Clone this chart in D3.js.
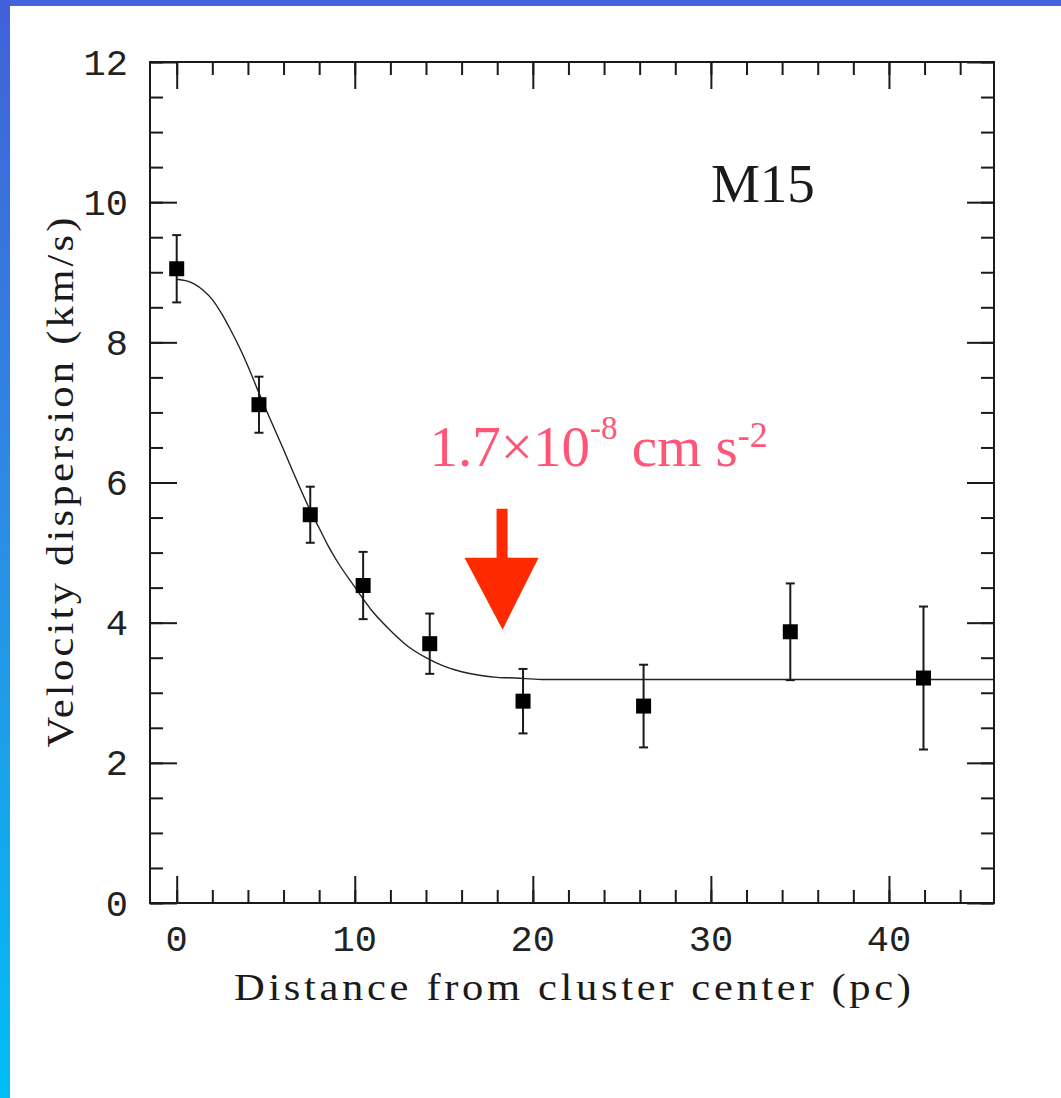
<!DOCTYPE html>
<html>
<head>
<meta charset="utf-8">
<script src="https://cdn.jsdelivr.net/npm/d3@7"></script>
<style>
  html, body { margin: 0; padding: 0; background: #fff; }
  svg { display: block; }
</style>
</head>
<body>
<svg class="chart"></svg>
<script>
// Measured points (distance in pc, dispersion in km/s, symmetric error)
var distance = [0, 4.62, 7.50, 10.47, 14.21, 19.45, 26.22, 34.46, 41.94];
var dispersion = [9.05, 7.11, 5.54, 4.53, 3.70, 2.88, 2.81, 3.87, 3.21];
var dispersionErr = [0.48, 0.40, 0.40, 0.48, 0.43, 0.46, 0.59, 0.69, 1.02];

// Fitted curve
var fitDistance = [0, 0.5, 1, 1.5, 2, 2.5, 3, 3.5, 4, 4.5, 5, 5.5, 6, 6.5, 7,
  7.5, 8, 8.5, 9, 10, 11, 12, 13, 14, 15, 16, 17, 18, 19, 20.5, 45.9];
var fitDispersion = [8.90, 8.88, 8.83, 8.74, 8.61, 8.42, 8.19, 7.94, 7.66,
  7.35, 7.05, 6.76, 6.47, 6.17, 5.88, 5.60, 5.35, 5.10, 4.88, 4.51, 4.16,
  3.89, 3.66, 3.50, 3.38, 3.30, 3.25, 3.22, 3.21, 3.19, 3.19];

// Ticks
var xMajor = [0, 10, 20, 30, 40];
var xMinor = [0, 2, 4, 6, 8, 10, 12, 14, 16, 18, 20, 22, 24, 26, 28, 30, 32,
  34, 36, 38, 40, 42, 44];
var yMajor = [0, 2, 4, 6, 8, 10, 12];
var yMinor = [0, 0.5, 1, 1.5, 2, 2.5, 3, 3.5, 4, 4.5, 5, 5.5, 6, 6.5, 7, 7.5,
  8, 8.5, 9, 9.5, 10, 10.5, 11, 11.5, 12];

var chartWidth = 1061;
var chartHeight = 1098;
var plotLeft = 150, plotRight = 994, plotTop = 62, plotBottom = 903;
var ink = '#1a1a1a';
var serif = '"Liberation Serif", "Times New Roman", serif';
var stretch = 1.15;  // axis titles are wider than Times

var x = d3.scaleLinear().domain([-1.5, 45.9]).range([plotLeft, plotRight]);
var y = d3.scaleLinear().domain([0, 12]).range([plotBottom, plotTop]);

var chart = d3.select('.chart')
    .attr('width', chartWidth).attr('height', chartHeight);

// Slide background border
var defs = chart.append('defs');
var grad = defs.append('linearGradient')
    .attr('id', 'sideGrad')
    .attr('x1', 0).attr('y1', 0).attr('x2', 0).attr('y2', 1);
grad.append('stop').attr('offset', '0%').attr('stop-color', '#4161d8');
grad.append('stop').attr('offset', '50%').attr('stop-color', '#2a8fe6');
grad.append('stop').attr('offset', '100%').attr('stop-color', '#00bef6');

chart.append('rect').attr('x', 0).attr('y', 0)
    .attr('width', chartWidth).attr('height', chartHeight).attr('fill', '#fff');
chart.append('rect').attr('x', 0).attr('y', 0)
    .attr('width', chartWidth).attr('height', 6).attr('fill', '#4464dc');
chart.append('rect').attr('x', 0).attr('y', 0)
    .attr('width', 10).attr('height', chartHeight).attr('fill', 'url(#sideGrad)');

// Ticks on all four sides, pointing inward
function tickAxis(axis, values, size, transform) {
  chart.append('g')
      .attr('transform', transform)
      .call(axis.tickValues(values).tickSize(size).tickSizeOuter(0)
          .tickFormat(''))
      .call(g => g.select('.domain').remove())
      .call(g => g.selectAll('line').attr('stroke', ink)
          .attr('stroke-width', 2));
}
tickAxis(d3.axisBottom(x), xMinor, -13, 'translate(0,' + plotBottom + ')');
tickAxis(d3.axisBottom(x), xMajor, -27, 'translate(0,' + plotBottom + ')');
tickAxis(d3.axisTop(x), xMinor, -13, 'translate(0,' + plotTop + ')');
tickAxis(d3.axisTop(x), xMajor, -27, 'translate(0,' + plotTop + ')');
tickAxis(d3.axisLeft(y), yMinor, -13, 'translate(' + plotLeft + ',0)');
tickAxis(d3.axisLeft(y), yMajor, -27, 'translate(' + plotLeft + ',0)');
tickAxis(d3.axisRight(y), yMinor, -13, 'translate(' + plotRight + ',0)');
tickAxis(d3.axisRight(y), yMajor, -27, 'translate(' + plotRight + ',0)');

chart.append('rect')
    .attr('x', plotLeft).attr('y', plotTop)
    .attr('width', plotRight - plotLeft).attr('height', plotBottom - plotTop)
    .attr('fill', 'none').attr('stroke', ink).attr('stroke-width', 2);

// Tick labels
chart.selectAll('text.xTick')
    .data(xMajor)
    .join('text')
    .attr('class', 'xTick')
    .attr('x', d => x(d))
    .attr('y', 951)
    .attr('text-anchor', 'middle')
    .style('font-family', '"Liberation Mono", monospace')
    .style('font-size', '37px')
    .attr('fill', '#222')
    .text(d => d);

chart.selectAll('text.yTick')
    .data(yMajor)
    .join('text')
    .attr('class', 'yTick')
    .attr('x', 128)
    .attr('y', d => y(d) + 12.5)
    .attr('text-anchor', 'end')
    .style('font-family', '"Liberation Mono", monospace')
    .style('font-size', '37px')
    .attr('fill', '#222')
    .text(d => d);

// Axis titles
chart.append('text')
    .attr('transform', 'translate(' + ((plotLeft + plotRight) / 2 - 338) +
        ',1000) scale(' + stretch + ',1)')
    .attr('textLength', 677 / stretch)
    .attr('lengthAdjust', 'spacing')
    .style('font-family', serif)
    .style('font-size', '37px')
    .attr('fill', ink)
    .text('Distance from cluster center (pc)');

chart.append('text')
    .attr('transform', 'translate(73,' + ((plotTop + plotBottom) / 2 + 265) +
        ') rotate(-90) scale(' + stretch + ',1)')
    .attr('textLength', 530 / stretch)
    .attr('lengthAdjust', 'spacing')
    .style('font-family', serif)
    .style('font-size', '37px')
    .attr('fill', ink)
    .text('Velocity dispersion (km/s)');

// Fitted curve
var fitLine = d3.line()
    .x((d, i) => x(fitDistance[i]))
    .y(d => y(d))
    .curve(d3.curveMonotoneX);
chart.append('path')
    .attr('d', fitLine(fitDispersion))
    .attr('fill', 'none')
    .attr('stroke', '#222')
    .attr('stroke-width', 1.4);

// Error bars and markers
var pts = chart.selectAll('g.pt')
    .data(distance)
    .join('g')
    .attr('class', 'pt');
pts.append('line')
    .attr('x1', d => x(d)).attr('x2', d => x(d))
    .attr('y1', (d, i) => y(dispersion[i] + dispersionErr[i]))
    .attr('y2', (d, i) => y(dispersion[i] - dispersionErr[i]))
    .attr('stroke', ink).attr('stroke-width', 2);
[1, -1].forEach(function(sign) {
  pts.append('line')
      .attr('x1', d => x(d) - 4.5).attr('x2', d => x(d) + 4.5)
      .attr('y1', (d, i) => y(dispersion[i] + sign * dispersionErr[i]))
      .attr('y2', (d, i) => y(dispersion[i] + sign * dispersionErr[i]))
      .attr('stroke', ink).attr('stroke-width', 2);
});
pts.append('rect')
    .attr('x', d => x(d) - 7.5)
    .attr('y', (d, i) => y(dispersion[i]) - 7.5)
    .attr('width', 15).attr('height', 15)
    .attr('fill', '#000');

// Cluster name
chart.append('text')
    .attr('x', x(30))
    .attr('y', y(10))
    .style('font-family', serif)
    .style('font-size', '55px')
    .attr('fill', ink)
    .text('M15');

// Acceleration annotation
var note = chart.append('text')
    .attr('x', x(14.2))
    .attr('y', 466)
    .style('font-family', serif)
    .style('font-size', '57px')
    .style('white-space', 'pre')
    .attr('fill', '#ff5577');
note.append('tspan').text('1.7\u00d710');
note.append('tspan').attr('dy', -27).style('font-size', '33px').text('-8');
note.append('tspan').attr('dy', 27).text(' cm s');
note.append('tspan').attr('dy', -19).style('font-size', '36px').text('-2');

// Arrow pointing down at the flattening radius
var tipX = x(18.3), tipY = y(3.9);
var arrow = d3.path();
arrow.moveTo(tipX - 6, tipY - 121);
arrow.lineTo(tipX + 5, tipY - 121);
arrow.lineTo(tipX + 5, tipY - 72);
arrow.lineTo(tipX + 36, tipY - 72);
arrow.lineTo(tipX, tipY);
arrow.lineTo(tipX - 38, tipY - 72);
arrow.lineTo(tipX - 6, tipY - 72);
arrow.closePath();
chart.append('path')
    .attr('d', arrow.toString())
    .attr('fill', '#ff2a00');
</script>
</body>
</html>
